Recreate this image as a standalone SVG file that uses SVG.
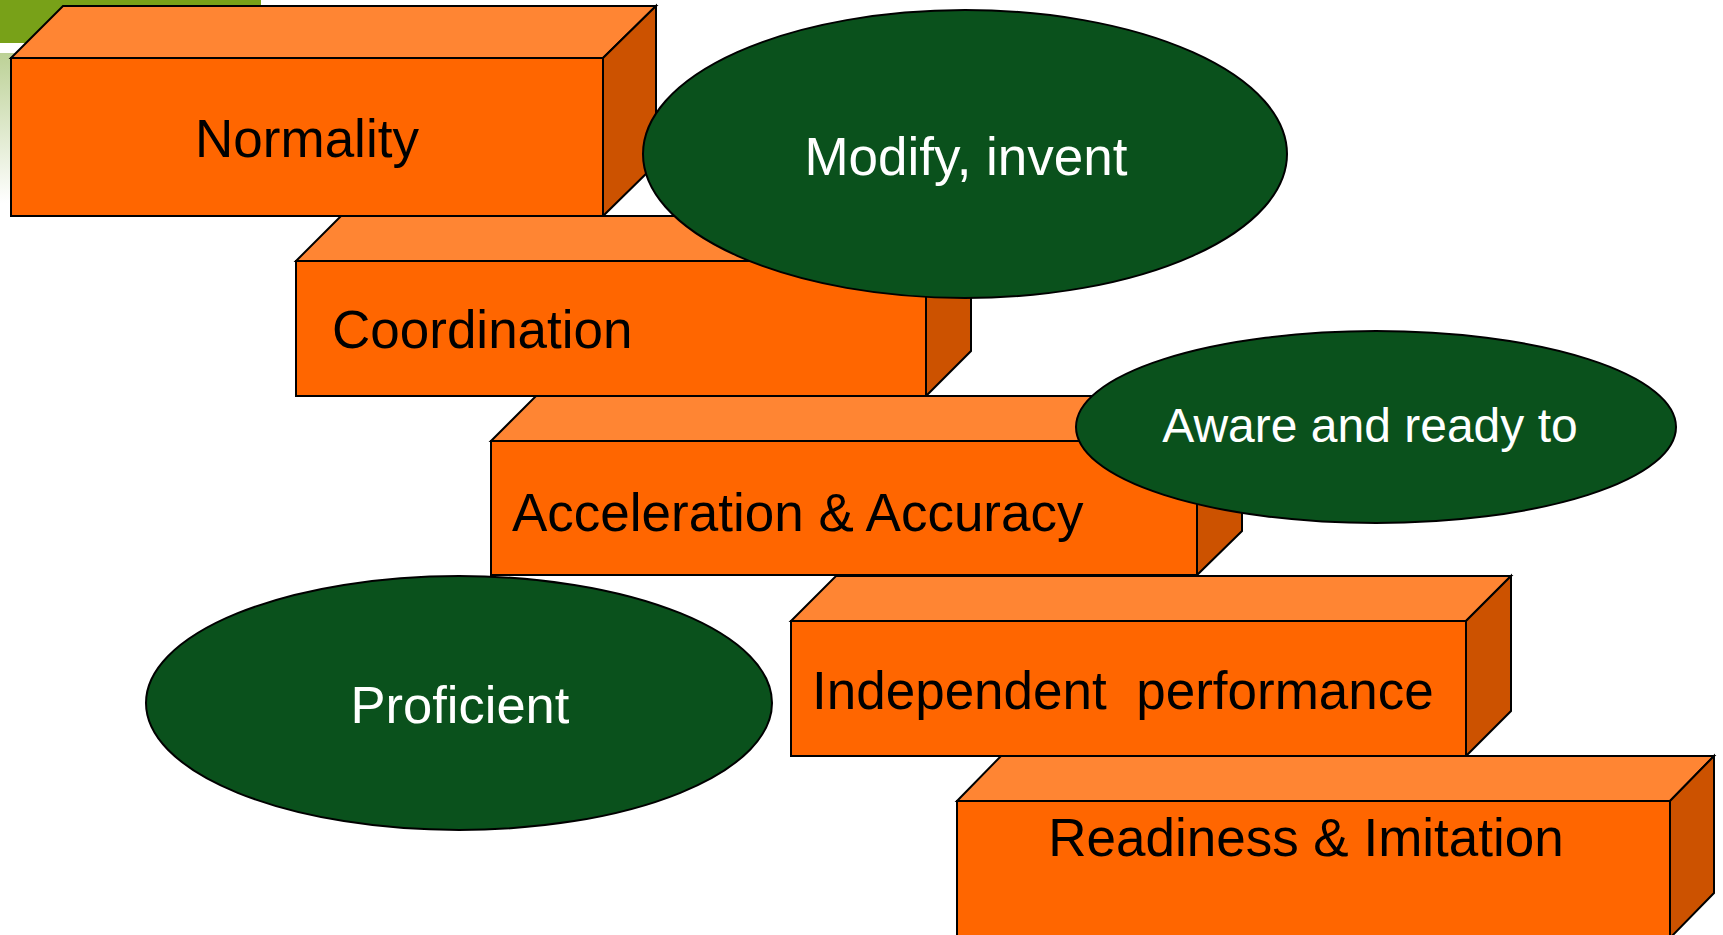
<svg xmlns="http://www.w3.org/2000/svg" width="1723" height="935" viewBox="0 0 1723 935">
<defs>
<linearGradient id="fade" x1="0" y1="0" x2="0" y2="1">
<stop offset="0" stop-color="#BCD196"/>
<stop offset="1" stop-color="#FFFFFF"/>
</linearGradient>
<style>
.front{fill:#FF6600;stroke:#000;stroke-width:2;stroke-linejoin:miter}
.top{fill:#FF8533;stroke:#000;stroke-width:2}
.side{fill:#CC5200;stroke:#000;stroke-width:2}
.oval{fill:#0A511C;stroke:#000;stroke-width:2}
.bt{font-family:"Liberation Sans",Arial,sans-serif;font-size:53px;fill:#000;white-space:pre}
.wt{font-family:"Liberation Sans",Arial,sans-serif;font-size:53px;fill:#FFF;text-anchor:middle}
</style>
</defs>
<rect width="1723" height="935" fill="#FFFFFF"/>
<g id="decor">
<rect x="0" y="0" width="261" height="43" fill="#78A118"/>
<rect x="0" y="53" width="261" height="150" fill="url(#fade)"/>
</g>
<g id="box-normality">
<polygon class="top" points="11,58 63,6 656,6 603,58"/>
<polygon class="side" points="603,58 656,6 656,164 603,216"/>
<rect class="front" x="11" y="58" width="592" height="158"/>
<text class="bt" x="307" y="157" text-anchor="middle">Normality</text>
</g>
<g id="box-coordination">
<polygon class="top" points="296,261 341,216 971,216 926,261"/>
<polygon class="side" points="926,261 971,216 971,351 926,396"/>
<rect class="front" x="296" y="261" width="630" height="135"/>
<text class="bt" x="332" y="348">Coordination</text>
</g>
<g id="box-acceleration">
<polygon class="top" points="491,441 536,396 1242,396 1197,441"/>
<polygon class="side" points="1197,441 1242,396 1242,531 1197,575"/>
<rect class="front" x="491" y="441" width="706" height="134"/>
<text class="bt" x="512" y="531">Acceleration &amp; Accuracy</text>
</g>
<g id="box-independent">
<polygon class="top" points="791,621 836,576 1511,576 1466,621"/>
<polygon class="side" points="1466,621 1511,576 1511,711 1466,756"/>
<rect class="front" x="791" y="621" width="675" height="135"/>
<text class="bt" x="812" y="709">Independent  performance</text>
</g>
<g id="box-readiness">
<polygon class="top" points="957,801 1001,756 1714,756 1670,801"/>
<polygon class="side" points="1670,801 1714,756 1714,893 1670,938"/>
<rect class="front" x="957" y="801" width="713" height="140"/>
<text class="bt" x="1306" y="856" text-anchor="middle">Readiness &amp; Imitation</text>
</g>
<g id="oval-modify">
<ellipse class="oval" cx="965" cy="154" rx="322" ry="144"/>
<text class="wt" x="966" y="175">Modify, invent</text>
</g>
<g id="oval-aware">
<ellipse class="oval" cx="1376" cy="427" rx="300" ry="96"/>
<text class="wt" x="1370" y="442" style="font-size:48px">Aware and ready to</text>
</g>
<g id="oval-proficient">
<ellipse class="oval" cx="459" cy="703" rx="313" ry="127"/>
<text class="wt" x="460" y="723" style="font-size:52.5px">Proficient</text>
</g>
<g id="connectors"></g>
</svg>
